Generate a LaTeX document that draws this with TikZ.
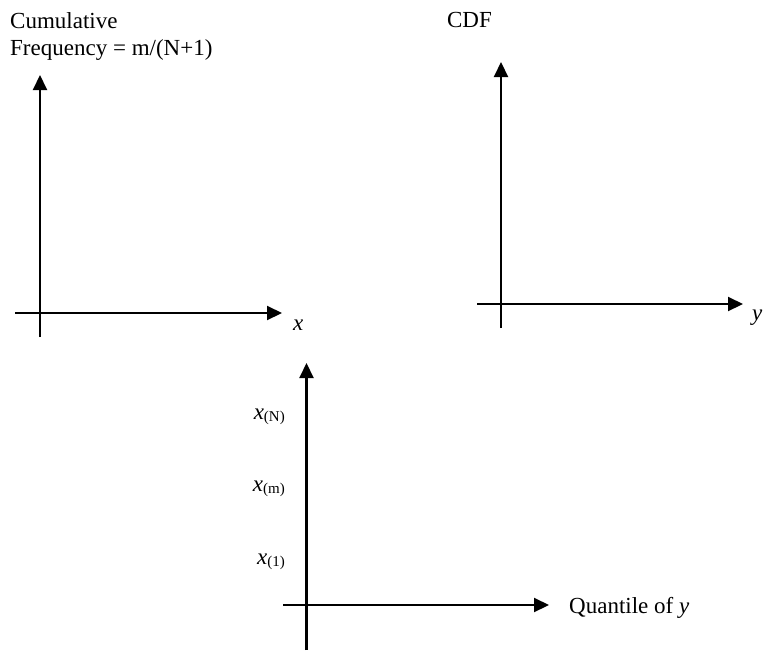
\documentclass[tikz,border=0pt]{standalone}
\usepackage{fontspec}
\setmainfont{Liberation Serif}
\usetikzlibrary{arrows.meta}
\newcommand{\qsub}[1]{\raisebox{-2.5pt}{\fontsize{15}{15}\selectfont #1}}
\begin{document}
\begin{tikzpicture}[x=1pt,y=-1pt,
  axisline/.style={line width=2.1pt,-{Triangle[length=15pt,width=14pt]}},
  lbl/.style={inner sep=0pt,font=\fontsize{23}{27}\selectfont}]
\useasboundingbox (0,0) rectangle (763,659);
% panel 1
\coordinate (a1b) at (40,337);
\coordinate (a1t) at (40,75);
\coordinate (a1l) at (15,313);
\coordinate (a1r) at (282,313);
\draw[axisline] (a1b) -- (a1t);
\draw[axisline] (a1l) -- (a1r);
\node[lbl,anchor=base west] (t1) at (10,28) {Cumulative};
\node[lbl,anchor=base west] (t2) at (10,55) {Frequency = m/(N+1)};
\node[lbl,anchor=base west] (lx) at (293,330) {\textit{x}};
% panel 2
\coordinate (a2b) at (501,328);
\coordinate (a2t) at (501,62);
\coordinate (a2l) at (477,304);
\coordinate (a2r) at (743,304);
\draw[axisline] (a2b) -- (a2t);
\draw[axisline] (a2l) -- (a2r);
\node[lbl,anchor=base east] (cdf) at (492,27) {CDF};
\node[lbl,anchor=base west] (ly) at (752,320) {\textit{y}};
% panel 3
\coordinate (a3b) at (306.5,650);
\coordinate (a3t) at (306.5,363);
\coordinate (a3l) at (283,605);
\coordinate (a3r) at (549,605);
\draw[axisline] (a3b) -- (a3t);
\draw[axisline] (a3l) -- (a3r);
\node[lbl,anchor=base west] (q) at (569,613) {Quantile of \textit{y}};
\node[lbl,anchor=base east] (xn) at (285,419) {\textit{x}\qsub{(N)}};
\node[lbl,anchor=base east] (xm) at (285,491) {\textit{x}\qsub{(m)}};
\node[lbl,anchor=base east] (x1) at (285,564) {\textit{x}\qsub{(1)}};
\end{tikzpicture}
\end{document}
